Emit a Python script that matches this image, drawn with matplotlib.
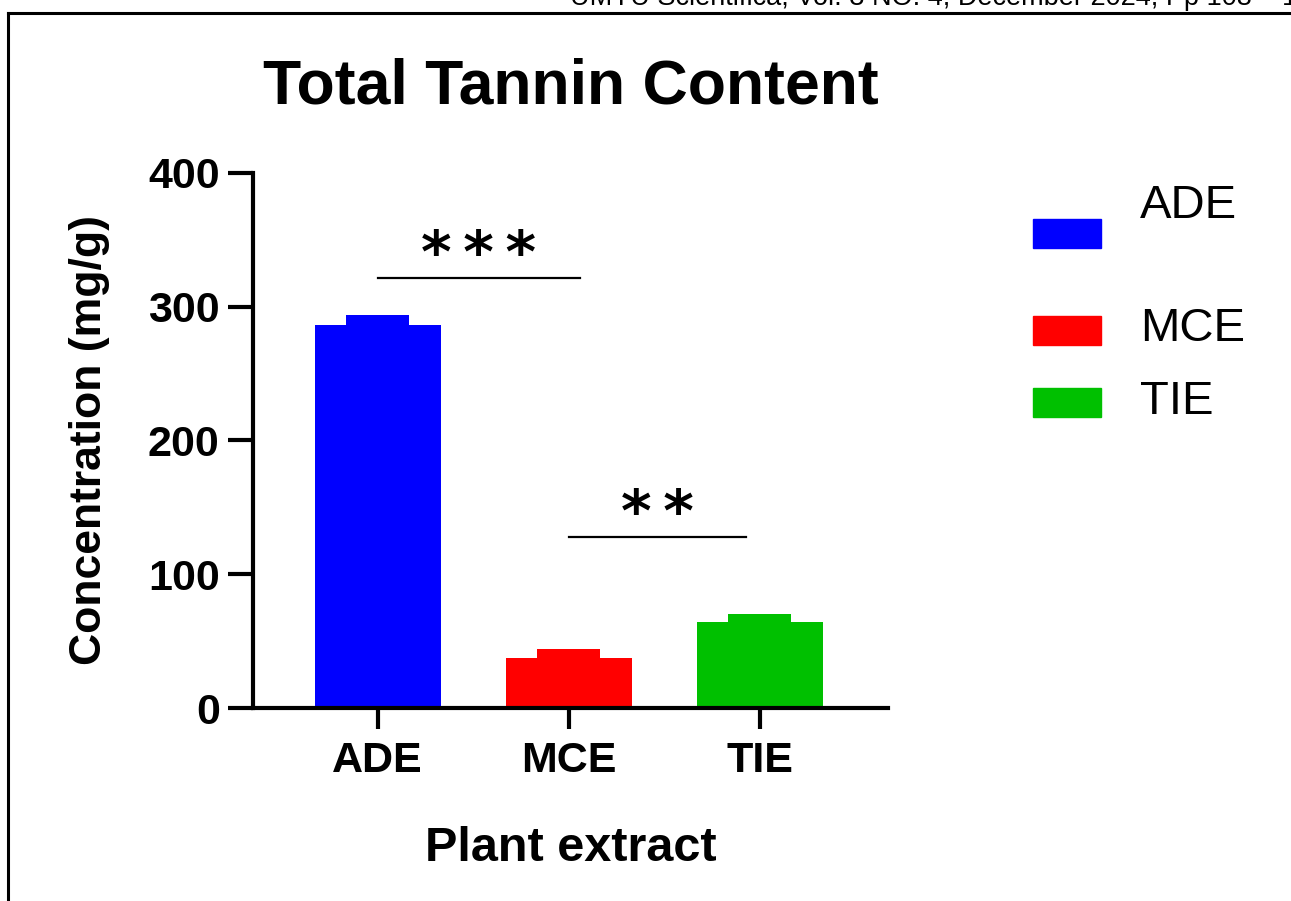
import matplotlib
matplotlib.use("Agg")
import matplotlib.pyplot as plt
from matplotlib.lines import Line2D
from matplotlib.patches import Rectangle
import numpy as np

# Data
extracts = ["ADE", "MCE", "TIE"]
means = [286.4, 37.6, 64.3]
sem = [7.2, 6.3, 6.0]
colors = ["#0000FF", "#FF0000", "#00C000"]

# significance brackets: (x start, x end, y, label)
sig_x1 = [0.0, 1.0]
sig_x2 = [1.06, 1.93]
sig_y = [321.5, 128.0]
sig_labels = ["***", "**"]

plt.rcParams["font.family"] = ["Liberation Sans", "DejaVu Sans"]

fig = plt.figure(figsize=(12.91, 9.01), dpi=100)
ax = fig.add_axes([0.196, 0.2142, 0.492, 0.594])

x = np.arange(len(extracts))
ax.bar(x, means, width=0.66, color=colors)
# error bars drawn as narrow caps in bar colour (upper SEM only)
ax.bar(x, sem, width=0.33, bottom=means, color=colors)

for x1, x2, y, lab in zip(sig_x1, sig_x2, sig_y, sig_labels):
    ax.plot([x1, x2], [y, y], color="black", lw=1.6)
    ax.text((x1 + x2) / 2, y + 4, "\u2009".join(lab), ha="center", va="baseline",
            fontsize=42, fontweight="bold", family="DejaVu Sans")

ax.set_xlim(-0.652, 2.673)
ax.set_ylim(0, 400)
ax.set_yticks([0, 100, 200, 300, 400])
ax.set_xticks(x)
ax.set_xticklabels(extracts)

for s in ["top", "right"]:
    ax.spines[s].set_visible(False)
for s in ["left", "bottom"]:
    ax.spines[s].set_linewidth(3)

ax.tick_params(axis="y", length=18, width=3, pad=6, labelsize=31)
ax.tick_params(axis="x", length=15, width=3, pad=9, labelsize=31)
for lab in ax.get_xticklabels() + ax.get_yticklabels():
    lab.set_fontweight("bold")

ax.set_title("Total Tannin Content", fontsize=45, fontweight="bold", pad=50)
ax.set_ylabel("Concentration (mg/g)", fontsize=32, fontweight="bold", labelpad=27)
ax.set_xlabel("Plant extract", fontsize=35, fontweight="bold", labelpad=32)

# legend drawn by hand (uneven spacing in original)
W, H = 1291, 901
patch_top = [219, 316, 388]
label_y = [206, 329, 402]
for c, name, pt, ly in zip(colors, extracts, patch_top, label_y):
    fig.add_artist(Rectangle((1033 / W, 1 - (pt + 29) / H), 68 / W, 29 / H,
                             color=c, transform=fig.transFigure))
    fig.text(1140 / W, 1 - ly / H, name, fontsize=34, va="center", ha="left")

# page border and clipped journal header
fig.add_artist(Line2D([8 / W, 1], [1 - 13 / H, 1 - 13 / H], color="black", lw=2.2,
                      transform=fig.transFigure))
fig.add_artist(Line2D([8 / W, 8 / W], [0, 1 - 13 / H], color="black", lw=2.2,
                      transform=fig.transFigure))
fig.text(570 / W, 1 - 5 / H,
         "UMYU Scientifica, Vol. 3 NO. 4, December 2024, Pp 108 \u2013 120",
         fontsize=19.5, va="baseline", ha="left")

fig.savefig("out.png", dpi=100)
